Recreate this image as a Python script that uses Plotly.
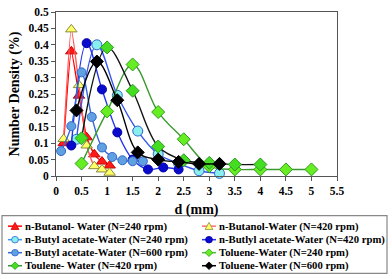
import plotly.graph_objects as go

# ---------------- data ----------------
names = [
    "n-Butanol- Water (N=240 rpm)",
    "n-Butanol-Water (N=420 rpm)",
    "n-Butyl acetate-Water (N=240 rpm)",
    "n-Butlyl acetate-Water (N=420 rpm)",
    "n-Butyl acetate-Water (N=600 rpm)",
    "Toluene-Water (N=240 rpm)",
    "Toulene- Water (N=420 rpm)",
    "Toluene-Water (N=600 rpm)",
]

x_but240 = [0.15, 0.3, 0.45, 0.6, 0.75, 0.9, 1.05]
y_but240 = [0.10, 0.38, 0.245, 0.118, 0.066, 0.044, 0.032]

x_but420 = [0.15, 0.3, 0.45, 0.6, 0.75, 0.9, 1.05]
y_but420 = [0.113, 0.447, 0.277, 0.093, 0.03, 0.02, 0.01]

x_ba240 = [0.4, 0.8, 1.2, 1.6, 2.0, 2.4, 2.8, 3.2]
y_ba240 = [0.112, 0.40, 0.246, 0.137, 0.067, 0.038, 0.016, 0.008]

x_ba420 = [0.3, 0.6, 0.9, 1.2, 1.5, 1.8, 2.1, 2.4]
y_ba420 = [0.093, 0.405, 0.264, 0.133, 0.05, 0.02, 0.026, 0.02]

x_ba600 = [0.1, 0.3, 0.5, 0.7, 0.9, 1.1, 1.3, 1.5, 1.7]
y_ba600 = [0.076, 0.152, 0.316, 0.18, 0.087, 0.058, 0.048, 0.045, 0.045]

x_tol240 = [0.5, 1.0, 1.5, 2.0, 2.5, 3.0, 3.5, 4.0, 4.5, 5.0]
y_tol240 = [0.038, 0.197, 0.34, 0.195, 0.112, 0.03, 0.02, 0.02, 0.02, 0.02]

x_tol420 = [0.5, 1.0, 1.5, 2.0, 2.5, 3.0, 3.5, 4.0]
y_tol420 = [0.115, 0.392, 0.26, 0.09, 0.048, 0.04, 0.035, 0.035]

x_tol600 = [0.4, 0.8, 1.2, 1.6, 2.0, 2.4, 2.8, 3.2]
y_tol600 = [0.2, 0.349, 0.231, 0.072, 0.05, 0.043, 0.037, 0.037]

x_ticks = [0, 0.5, 1, 1.5, 2, 2.5, 3, 3.5, 4, 4.5, 5, 5.5]
y_ticks = [0, 0.05, 0.1, 0.15, 0.2, 0.25, 0.3, 0.35, 0.4, 0.45, 0.5]

# ---------------- styles ----------------
xs = [x_but240, x_but420, x_ba240, x_ba420, x_ba600, x_tol240, x_tol420, x_tol600]
ys = [y_but240, y_but420, y_ba240, y_ba420, y_ba600, y_tol240, y_tol420, y_tol600]
line_colors = ["#FF0000", "#FF5A5A", "#3355EE", "#2233EE", "#3366DD", "#3A9A30", "#141414", "#000000"]
legend_line_colors = ["#FF0000", "#FF7070", "#3399FF", "#2233EE", "#3366DD", "#55BB44", "#339933", "#000000"]
fill_colors = ["#FF1A1A", "#FFFF66", "#88EEEE", "#0A0ACC", "#5FA0E0", "#66EE22", "#44DD22", "#000000"]
edge_colors = ["#CC0000", "#8A8A40", "#3366CC", "#0000AA", "#3366CC", "#339922", "#2A9922", "#000000"]
symbols = ["triangle-up", "triangle-up", "circle", "circle", "circle", "diamond", "diamond", "diamond"]
msizes = [10, 10, 10, 9, 9, 10, 10, 10]
smooth = [0.5, 0.5, 1.0, 1.0, 1.0, 1.0, 1.0, 1.0]

L, R, T, B = 56, 55, 6, 103
WIDTH, HEIGHT = 392, 279
PW = WIDTH - L - R
PH = HEIGHT - T - B

fig = go.Figure()
for i in range(8):
    fig.add_trace(go.Scatter(
        x=xs[i], y=ys[i], mode="lines+markers", name=names[i],
        line=dict(color=line_colors[i], width=1.4, shape="spline", smoothing=smooth[i]),
        marker=dict(symbol=symbols[i], size=msizes[i], color=fill_colors[i],
                    line=dict(color=edge_colors[i], width=1)),
        showlegend=False, cliponaxis=False,
    ))

# ---------------- custom legend (compact, as in the reference) ----------------
def pxx(xp):
    return (xp - L) / PW

def pyy(yp):
    return (T + PH - yp) / PH

shapes = [dict(type="rect", xref="paper", yref="paper",
               x0=pxx(2), x1=pxx(387), y0=pyy(217), y1=pyy(277),
               line=dict(color="#888888", width=1.2), fillcolor="white", layer="below")]
annotations = []
row_y = [228, 242, 255.5, 269]
col_sym_x = [15, 209]
col_txt_x = [23, 217]
for i in range(8):
    r, c = i // 2, i % 2
    cy = row_y[r]
    cx = col_sym_x[c]
    shapes.append(dict(type="line", xref="paper", yref="paper",
                       x0=pxx(cx - 7), x1=pxx(cx + 7), y0=pyy(cy), y1=pyy(cy),
                       line=dict(color=legend_line_colors[i], width=1.5)))
    s = 3.4
    if symbols[i] == "circle":
        shapes.append(dict(type="circle", xref="paper", yref="paper",
                           x0=pxx(cx - s), x1=pxx(cx + s), y0=pyy(cy - s), y1=pyy(cy + s),
                           fillcolor=fill_colors[i], line=dict(color=edge_colors[i], width=0.8)))
    elif symbols[i] == "diamond":
        path = "M {} {} L {} {} L {} {} L {} {} Z".format(
            pxx(cx), pyy(cy - s - 0.5), pxx(cx + s + 0.5), pyy(cy),
            pxx(cx), pyy(cy + s + 0.5), pxx(cx - s - 0.5), pyy(cy))
        shapes.append(dict(type="path", xref="paper", yref="paper", path=path,
                           fillcolor=fill_colors[i], line=dict(color=edge_colors[i], width=0.8)))
    else:
        path = "M {} {} L {} {} L {} {} Z".format(
            pxx(cx), pyy(cy - s - 0.5), pxx(cx + s + 0.5), pyy(cy + s),
            pxx(cx - s - 0.5), pyy(cy + s))
        shapes.append(dict(type="path", xref="paper", yref="paper", path=path,
                           fillcolor=fill_colors[i], line=dict(color=edge_colors[i], width=0.8)))
    annotations.append(dict(text=names[i], xref="paper", yref="paper",
                            x=pxx(col_txt_x[c]), y=pyy(cy), xanchor="left", yanchor="middle",
                            showarrow=False,
                            font=dict(family="Liberation Serif", size=10.7, color="black", weight="bold")))

fig.update_layout(
    width=WIDTH, height=HEIGHT,
    margin=dict(l=L, r=R, t=T, b=B),
    paper_bgcolor="white", plot_bgcolor="white",
    font=dict(family="Liberation Serif", color="black"),
    shapes=shapes, annotations=annotations,
    showlegend=False,
)
fig.update_xaxes(
    range=[0, 5.5], tickvals=x_ticks, ticktext=[str(v) for v in x_ticks],
    showgrid=False, zeroline=False, showline=True, linecolor="#555555", linewidth=1,
    mirror=True, ticks="outside", ticklen=4, tickcolor="#555555",
    ticklabeloverflow="allow",
    tickfont=dict(family="Liberation Serif", size=11.5, color="black", weight="bold"),
    title=dict(text="d (mm)", standoff=8,
               font=dict(family="Liberation Serif", size=14, color="black", weight="bold")),
)
fig.update_yaxes(
    range=[0, 0.5], tickvals=y_ticks, ticktext=[("%g" % v) for v in y_ticks],
    showgrid=False, zeroline=False, showline=True, linecolor="#555555", linewidth=1,
    mirror=True, ticks="outside", ticklen=4, tickcolor="#555555",
    ticklabeloverflow="allow",
    tickfont=dict(family="Liberation Serif", size=11.5, color="black", weight="bold"),
    title=dict(text="Number Density (%)", standoff=5,
               font=dict(family="Liberation Serif", size=14, color="black", weight="bold")),
)

fig.write_html("out.html", config={"displayModeBar": False},
               post_script="document.body.style.margin='0';document.body.style.overflow='hidden';")
